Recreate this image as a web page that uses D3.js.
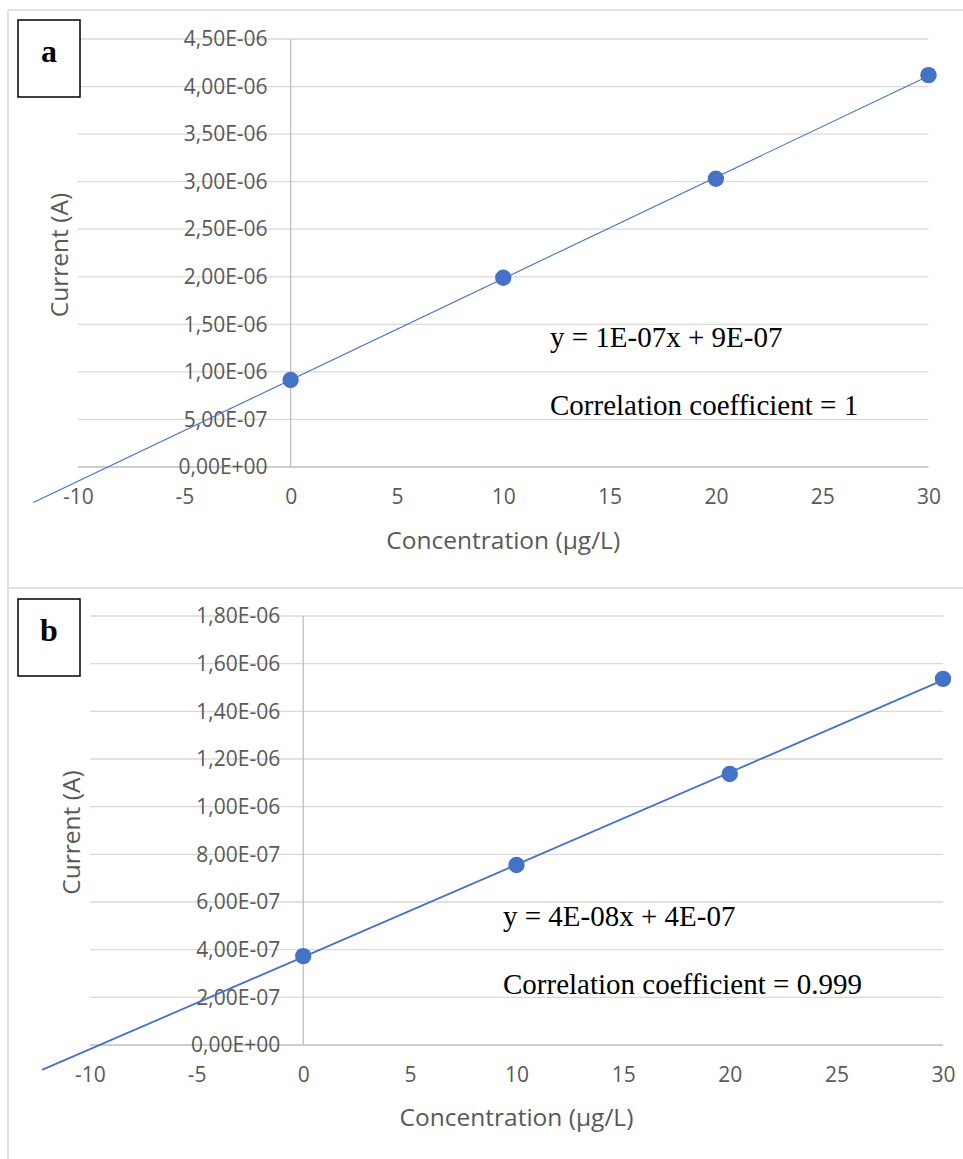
<!DOCTYPE html>
<html>
<head>
<meta charset="utf-8">
<script src="https://cdn.jsdelivr.net/npm/d3@7"></script>
<style>
  body { margin: 0; background: #fff; }
  svg { display: block; }
</style>
</head>
<body>
<svg width="963" height="1159"></svg>
<script>
// data
const concentration = [0, 10, 20, 30]
const currentA = [0.915e-6, 1.99e-6, 3.03e-6, 4.12e-6]
const currentB = [0.373e-6, 0.755e-6, 1.137e-6, 1.536e-6]

const xTicks = [-10, -5, 0, 5, 10, 15, 20, 25, 30]
const yTicksA = [0, 0.5e-6, 1e-6, 1.5e-6, 2e-6, 2.5e-6, 3e-6, 3.5e-6, 4e-6, 4.5e-6]
const yTicksB = [0, 0.2e-6, 0.4e-6, 0.6e-6, 0.8e-6, 1e-6, 1.2e-6, 1.4e-6, 1.6e-6, 1.8e-6]

const equationA = 'y = 1E-07x + 9E-07'
const correlationA = 'Correlation coefficient = 1'
const equationB = 'y = 4E-08x + 4E-07'
const correlationB = 'Correlation coefficient = 0.999'

const xTitle = 'Concentration (\u00b5g/L)'
const yTitle = 'Current (A)'

const blue = '#4472c4'
const textGray = '#595959'
const labelFont = '"Open Sans", "Noto Sans", sans-serif'

// "4.50e-6" -> "4,50E-06"
function excelSci(v) {
  const [m, e] = v.toExponential(2).split('e')
  const n = +e
  return m.replace('.', ',') + 'E' + (n < 0 ? '-' : '+') + String(Math.abs(n)).padStart(2, '0')
}

// least squares fit, as Excel's linear trendline
function fit(xs, ys) {
  const mx = d3.mean(xs)
  const my = d3.mean(ys)
  const sxy = d3.sum(xs, (x, i) => (x - mx) * (ys[i] - my))
  const sxx = d3.sum(xs, x => (x - mx) * (x - mx))
  const slope = sxy / sxx
  return { slope, intercept: my - slope * mx }
}

const svg = d3.select('svg')

// outer frames
const frame = svg.append('g').attr('stroke', '#d9d9d9').attr('stroke-width', 1.5)
frame.append('line').attr('x1', 8).attr('x2', 8).attr('y1', 10).attr('y2', 1159)
frame.append('line').attr('x1', 8).attr('x2', 963).attr('y1', 10).attr('y2', 10)
frame.append('line').attr('x1', 8).attr('x2', 963).attr('y1', 588).attr('y2', 588)

const panels = [
  {
    tag: 'a', ys: currentA, yTicks: yTicksA, yMax: 4.5e-6,
    xRange: [78, 928.5], yRange: [467, 39],
    back: 12.1, lineWidth: 1.1,
    eq: equationA, corr: correlationA, textX: 550, eqY: 347, corrY: 415,
    box: [18, 20], xTitleY: 549, yTitleX: 58,
  },
  {
    tag: 'b', ys: currentB, yTicks: yTicksB, yMax: 1.8e-6,
    xRange: [90, 943], yRange: [1045, 616],
    back: 12.25, lineWidth: 1.8,
    eq: equationB, corr: correlationB, textX: 503, eqY: 926, corrY: 994,
    box: [18, 599], xTitleY: 1126, yTitleX: 70,
  },
]

panels.forEach(p => {
  const x = d3.scaleLinear().domain([-10, 30]).range(p.xRange)
  const y = d3.scaleLinear().domain([0, p.yMax]).range(p.yRange)
  const g = svg.append('g')

  // horizontal gridlines
  g.append('g')
    .selectAll('line')
    .data(p.yTicks.filter(t => t > 0))
    .join('line')
    .attr('x1', x(-10))
    .attr('x2', x(30))
    .attr('y1', d => y(d))
    .attr('y2', d => y(d))
    .attr('stroke', '#d9d9d9')
    .attr('stroke-width', 1.3)

  // axis lines through zero
  g.append('line')
    .attr('x1', x(-10)).attr('x2', x(30))
    .attr('y1', y(0)).attr('y2', y(0))
    .attr('stroke', '#bfbfbf').attr('stroke-width', 1.3)
  g.append('line')
    .attr('x1', x(0)).attr('x2', x(0))
    .attr('y1', y(0)).attr('y2', y(p.yMax))
    .attr('stroke', '#bfbfbf').attr('stroke-width', 1.3)

  // tick labels
  const yAxis = g.append('g')
    .attr('transform', `translate(${x(0)},0)`)
    .call(d3.axisLeft(y).tickValues(p.yTicks).tickFormat(excelSci).tickSize(0).tickPadding(23))
  const xAxis = g.append('g')
    .attr('transform', `translate(0,${y(0)})`)
    .call(d3.axisBottom(x).tickValues(xTicks).tickFormat(d => String(d)).tickSize(0).tickPadding(22))
  ;[xAxis, yAxis].forEach(a => {
    a.select('.domain').remove()
    a.selectAll('text')
      .attr('fill', textGray)
      .style('font-family', labelFont)
      .style('font-size', '21px')
  })

  // axis titles
  g.append('text')
    .attr('x', (x(-10) + x(30)) / 2)
    .attr('y', p.xTitleY)
    .attr('text-anchor', 'middle')
    .attr('fill', textGray)
    .style('font-family', labelFont)
    .style('font-size', '24.5px')
    .text(xTitle)
  g.append('text')
    .attr('transform', `translate(${p.yTitleX},${(y(0) + y(p.yMax)) / 2 + 2}) rotate(-90)`)
    .attr('text-anchor', 'middle')
    .attr('dominant-baseline', 'central')
    .attr('fill', textGray)
    .style('font-family', labelFont)
    .style('font-size', '24.5px')
    .text(yTitle)

  // trendline with backward forecast
  const { slope, intercept } = fit(concentration, p.ys)
  const x0 = -p.back
  g.append('line')
    .attr('x1', x(x0)).attr('y1', y(intercept + slope * x0))
    .attr('x2', x(30)).attr('y2', y(intercept + slope * 30))
    .attr('stroke', blue)
    .attr('stroke-width', p.lineWidth)

  // points
  g.append('g')
    .selectAll('circle')
    .data(concentration.map((c, i) => ({ c, v: p.ys[i] })))
    .join('circle')
    .attr('cx', d => x(d.c))
    .attr('cy', d => y(d.v))
    .attr('r', 8.2)
    .attr('fill', blue)

  // equation labels
  const serif = g.append('g')
    .attr('font-family', '"Liberation Serif", "Times New Roman", serif')
    .attr('font-size', 29)
    .attr('fill', '#000')
  serif.append('text').attr('x', p.textX).attr('y', p.eqY).text(p.eq)
  serif.append('text').attr('x', p.textX).attr('y', p.corrY).text(p.corr)

  // panel letter box
  const [bx, by] = p.box
  g.append('rect')
    .attr('x', bx).attr('y', by)
    .attr('width', 62).attr('height', 77)
    .attr('fill', '#fff')
    .attr('stroke', '#000')
    .attr('stroke-width', 1.5)
  g.append('text')
    .attr('x', bx + 31)
    .attr('y', by + 42)
    .attr('text-anchor', 'middle')
    .attr('font-family', '"Liberation Serif", "Times New Roman", serif')
    .attr('font-weight', 'bold')
    .attr('font-size', 32)
    .text(p.tag)
})
</script>
</body>
</html>
